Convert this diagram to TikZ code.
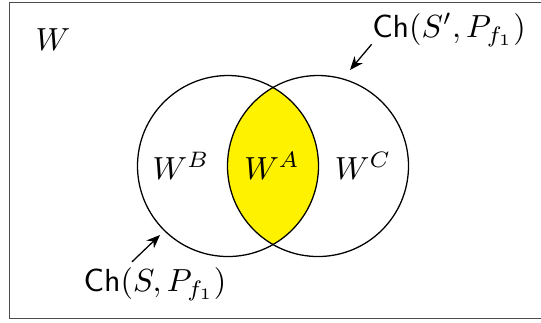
\documentclass[tikz,border=0pt]{standalone}
\usepackage{amsmath}
\usetikzlibrary{arrows.meta,calc}

\begin{document}
\begin{tikzpicture}[x=0.011cm, y=-0.011cm,
  region/.style={inner sep=0pt},
  chlabel/.style={inner sep=0pt},
  setline/.style={draw=black, line width=0.4pt},
  pointer/.style={-{Stealth[length=1.5mm, width=1.2mm]}, line width=0.4pt}
]
\useasboundingbox (0,0) rectangle (541,322);
\draw[black!70, line width=0.5pt] (9.5,2.5) rectangle (548,318.5);
\coordinate (cB) at (228,166);
\coordinate (cC) at (318,166);
\begin{scope}
  \clip (cB) circle[radius=90.5];
  \fill[yellow] (cC) circle[radius=90.5];
\end{scope}
\draw[setline] (cB) circle[radius=90.5];
\draw[setline] (cC) circle[radius=90.5];
\node[region] (w) at (53,40) {$W$};
\node[region] (wB) at (181,166) {$W^B$};
\node[region] (wA) at (272,166) {$W^A$};
\node[region] (wC) at (363,166) {$W^C$};
\node[chlabel] (chSp) at (449,30) {$\mathsf{Ch}(S',P_{f_1})$};
\node[chlabel] (chS) at (155,284) {$\mathsf{Ch}(S,P_{f_1})$};
\coordinate (tipC) at (350,70);
\coordinate (tipB) at (160,235);
\draw[pointer] ($(chSp.south west)+(0,-3)$) -- (tipC);
\draw[pointer] ($(chS.north)+(-23,-5)$) -- (tipB);
\end{tikzpicture}
\end{document}
